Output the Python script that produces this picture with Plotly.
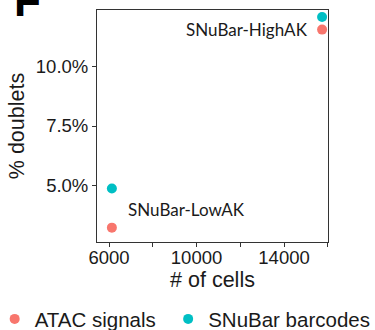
import plotly.graph_objects as go

samples = ["SNuBar-LowAK", "SNuBar-HighAK"]
cells = [6130, 15740]
atac_doublets = [0.0325, 0.1153]
snubar_doublets = [0.0489, 0.1206]

RED = "#F8766D"
TEAL = "#00BFC4"
FONT = "Liberation Sans, Arial, sans-serif"
INK = "#1a1a1a"

fig = go.Figure()
fig.add_trace(go.Scatter(x=cells, y=atac_doublets, mode="markers", name="ATAC signals",
                         marker=dict(color=RED, size=10), legend="legend"))
fig.add_trace(go.Scatter(x=cells, y=snubar_doublets, mode="markers", name="SNuBar barcodes",
                         marker=dict(color=TEAL, size=10), legend="legend2"))

# sample labels
fig.add_annotation(x=cells[1], y=atac_doublets[1], text=samples[1], showarrow=False,
                   xanchor="right", yanchor="middle", xshift=-12, yshift=0,
                   font=dict(family="Lato", size=17, color=INK))
fig.add_annotation(x=cells[0], y=(atac_doublets[0] + snubar_doublets[0]) / 2, text=samples[0],
                   showarrow=False, xanchor="left", yanchor="middle", xshift=14, yshift=-1,
                   font=dict(family="Lato", size=17, color=INK))

# panel letter
fig.add_annotation(x=0, y=1, xref="paper", yref="paper", text="<b>F</b>", showarrow=False,
                   xanchor="left", yanchor="bottom", xshift=-85, yshift=-17,
                   font=dict(family=FONT, size=44, color="black"))

axis_common = dict(showline=True, linecolor="#333333", linewidth=1, mirror=True,
                   ticks="outside", ticklen=4, tickcolor="#333333", showgrid=False,
                   zeroline=False, tickfont=dict(family=FONT, size=18.5, color=INK))

fig.update_xaxes(range=[5450, 16010], tick0=6000, dtick=4000, tickformat="d",
                 ticklabelstandoff=-5,
                 minor=dict(dtick=2000, ticks="outside", ticklen=4, tickcolor="#333333"),
                 title=dict(text="# of cells", font=dict(family=FONT, size=21.5, color=INK),
                            standoff=0),
                 **axis_common)
fig.update_yaxes(range=[0.0265, 0.1235], tick0=0.05, dtick=0.025, tickformat=".1%",
                 title=dict(text="% doublets", font=dict(family=FONT, size=21.5, color=INK),
                            standoff=5),
                 **axis_common)

legend_style = dict(orientation="h", yanchor="top", y=-0.246, xanchor="left",
                    font=dict(family=FONT, size=20.5, color=INK),
                    itemsizing="trace", bgcolor="rgba(0,0,0,0)")

fig.update_layout(
    width=375, height=330,
    margin=dict(l=97, r=47, t=10, b=88, autoexpand=False),
    plot_bgcolor="white", paper_bgcolor="white",
    showlegend=True,
    legend=dict(x=-0.443, **legend_style),
    legend2=dict(x=0.308, **legend_style),
)

fig.write_html("out.html")
